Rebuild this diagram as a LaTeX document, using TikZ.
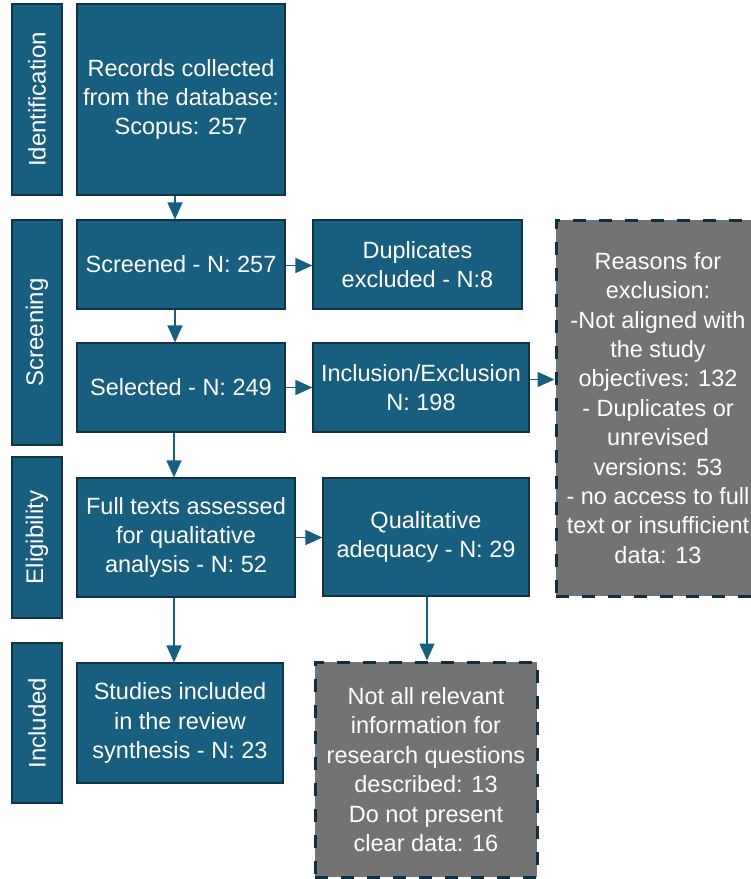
\documentclass[tikz,border=0pt]{standalone}
\usepackage{fontspec}
\setmainfont{Liberation Sans}
\usetikzlibrary{arrows.meta}
\definecolor{boxblue}{RGB}{24,94,127}
\definecolor{boxedge}{RGB}{16,52,70}
\definecolor{greybox}{RGB}{115,115,115}
\definecolor{dashedge}{RGB}{14,48,66}
\tikzset{
  bluebox/.style={draw=boxedge, line width=1.2pt, fill=boxblue, text=white, align=center,
    inner sep=0pt, font=\fontsize{23.5}{29.4}\selectfont},
  greyrect/.style={draw=dashedge, line width=3pt, dash pattern=on 13pt off 13pt, fill=greybox, text=white, align=center,
    inner sep=0pt, font=\fontsize{23.5}{29.4}\selectfont},
  phase/.style={bluebox, rotate=90, font=\fontsize{24}{29}\selectfont},
  arr/.style={draw=boxblue, line width=1.4pt, -{Triangle[width=15pt,length=17pt]}},
}
\begin{document}
\begin{tikzpicture}[x=1pt,y=-1pt]
\useasboundingbox (0,0) rectangle (751,879);
\begin{scope}
\clip (0,0) rectangle (751,879);
% phase labels
\node[phase, minimum width=191pt, minimum height=50pt] (idlab) at (37,99.5) {Identification};
\node[phase, minimum width=225pt, minimum height=50pt] (scrlab) at (37,332.5) {Screening};
\node[phase, minimum width=161pt, minimum height=50pt] (elilab) at (37,537.5) {Eligibility};
\node[phase, minimum width=160pt, minimum height=50pt] (inclab) at (37,723) {Included};
% main boxes
\node[bluebox, minimum width=208pt, minimum height=191pt] (rec) at (181,99.5) {Records collected\\from the database:\\Scopus: 257};
\node[bluebox, minimum width=208pt, minimum height=89pt] (scr) at (181,264.5) {Screened - N: 257};
\node[bluebox, minimum width=209pt, minimum height=89pt] (dup) at (417.5,264.5) {Duplicates\\excluded - N:8};
\node[bluebox, minimum width=208pt, minimum height=89pt] (sel) at (181,387.5) {Selected - N: 249};
\node[bluebox, minimum width=216pt, minimum height=89pt] (inc) at (421,387.5) {Inclusion/Exclusion\\N: 198};
\node[greyrect, minimum width=204pt, minimum height=376pt] (rea) at (658,408) {Reasons for\\exclusion:\\-Not aligned with\\the study\\objectives: 132\\- Duplicates or\\unrevised\\versions: 53\\- no access to full\\text or insufficient\\data: 13};
\node[bluebox, minimum width=218pt, minimum height=119pt] (full) at (186,537.5) {Full texts assessed\\for qualitative\\analysis - N: 52};
\node[bluebox, minimum width=206pt, minimum height=118pt] (qual) at (426,537) {Qualitative\\adequacy - N: 29};
\node[bluebox, minimum width=206pt, minimum height=120pt] (stu) at (180,723) {Studies included\\in the review\\synthesis - N: 23};
\node[greyrect, minimum width=222pt, minimum height=215pt] (nota) at (426,769.5) {Not all relevant\\information for\\research questions\\described: 13\\Do not present\\clear data: 16};
\end{scope}
% connectors
\draw[arr] ([xshift=-6pt]rec.south) -- ([xshift=-6pt]scr.north);
\draw[arr] ([yshift=-1pt]scr.east) -- ([yshift=-1pt]scr.east -| dup.west);
\draw[arr] ([xshift=-6pt]scr.south) -- ([xshift=-6pt]scr.south |- sel.north);
\draw[arr] (sel.east) -- (sel.east -| inc.west);
\draw[arr] ([yshift=8pt]inc.east) -- ([yshift=8pt]inc.east -| rea.west);
\draw[arr] ([xshift=-7pt]sel.south) -- ([xshift=-7pt]sel.south |- full.north);
\draw[arr] (full.east) -- (full.east -| qual.west);
\draw[arr] ([xshift=-12pt]full.south) -- ([xshift=-12pt]full.south |- stu.north);
\draw[arr] ([xshift=1pt]qual.south) -- ([xshift=1pt]qual.south |- nota.north);
\end{tikzpicture}
\end{document}
